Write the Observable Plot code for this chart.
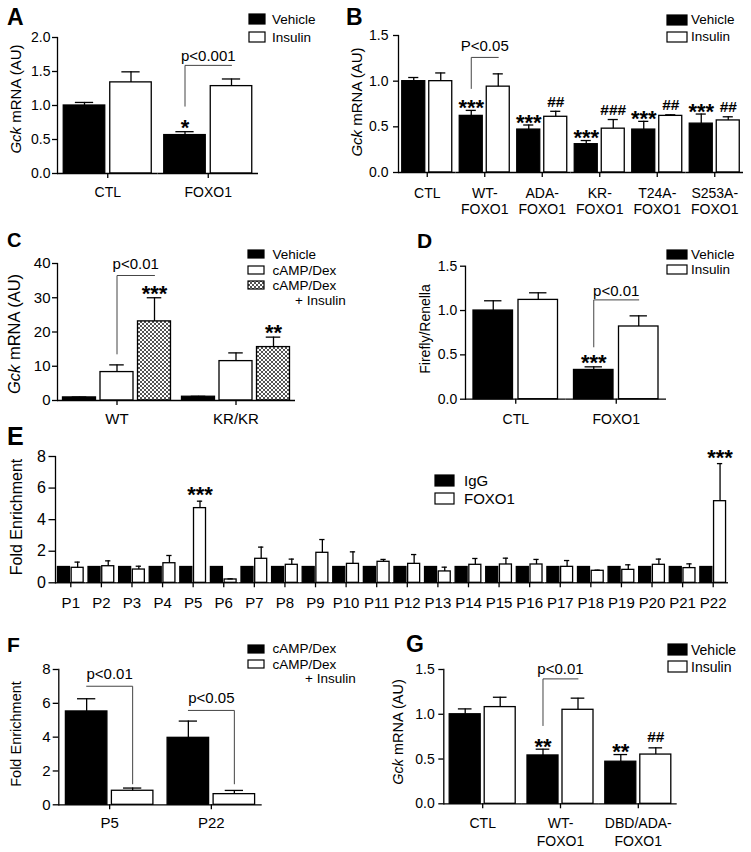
<!DOCTYPE html>
<html><head><meta charset="utf-8">
<script src="https://cdn.jsdelivr.net/npm/d3@7"></script>
<script src="https://cdn.jsdelivr.net/npm/@observablehq/plot@0.6"></script>
<style>
body{margin:0;background:#fff;}
#fig{position:relative;width:751px;height:852px;background:#fff;overflow:hidden}
.panel{position:absolute}
.panel svg{display:block;max-width:none}
#overlay{position:absolute;left:0;top:0;pointer-events:none}
</style></head><body>
<svg width="0" height="0" style="position:absolute"><defs>
<pattern id="checker" patternUnits="userSpaceOnUse" width="4" height="4">
<rect width="4" height="4" fill="#fff"/><rect width="2" height="2" fill="#555"/><rect x="2" y="2" width="2" height="2" fill="#555"/>
</pattern></defs></svg>
<div id="fig"></div>
<script>
const FONT = '"Liberation Sans", Arial, Helvetica, sans-serif';

// ---------- Panel A ----------
const aGroups = ["CTL", "FOXO1"];
const aLabels = ["CTL", "FOXO1"];
const aSeries = ["Vehicle", "Insulin"];
const aVehicle = [1.00, 0.565];
const aVehicleSem = [0.045, 0.05];
const aInsulin = [1.34, 1.285];
const aInsulinSem = [0.155, 0.105];
const aAnnVehicle = ["", "*"];
const aAnnInsulin = ["", ""];
const aTicks = [0, 0.5, 1.0, 1.5, 2.0];
const aBrackets = [{group: "FOXO1", from: "Vehicle", to: "Insulin", bottom: 0.99, top: 1.59, text: "p<0.001", leg: "left"}];

// ---------- Panel B ----------
const bGroups = ["CTL", "WT-FOXO1", "ADA-FOXO1", "KR-FOXO1", "T24A-FOXO1", "S253A-FOXO1"];
const bLabels = ["CTL", "WT-\nFOXO1", "ADA-\nFOXO1", "KR-\nFOXO1", "T24A-\nFOXO1", "S253A-\nFOXO1"];
const bSeries = ["Vehicle", "Insulin"];
const bVehicle = [1.00, 0.62, 0.47, 0.31, 0.47, 0.535];
const bVehicleSem = [0.04, 0.06, 0.05, 0.04, 0.09, 0.105];
const bInsulin = [1.00, 0.94, 0.61, 0.48, 0.62, 0.57];
const bInsulinSem = [0.09, 0.14, 0.06, 0.10, 0.012, 0.04];
const bAnnVehicle = ["", "***", "***", "***", "***", "***"];
const bAnnInsulin = ["", "", "##", "###", "##", "##"];
const bTicks = [0, 0.5, 1.0, 1.5];
const bBrackets = [{group: "WT-FOXO1", from: "Vehicle", to: "Insulin", bottom: 0.92, top: 1.26, text: "P<0.05", leg: "left"}];

// ---------- Panel C ----------
const cGroups = ["WT", "KR/KR"];
const cLabels = ["WT", "KR/KR"];
const cSeries = ["Vehicle", "cAMP/Dex", "cAMP/Dex + Insulin"];
const cVehicle = [0.9, 1.1];
const cVehicleSem = [0.1, 0.12];
const cCamp = [8.3, 11.5];
const cCampSem = [2.1, 2.4];
const cCampIns = [23.1, 15.6];
const cCampInsSem = [6.9, 2.9];
const cAnnCampIns = ["***", "**"];
const cTicks = [0, 10, 20, 30, 40];
const cBrackets = [{group: "WT", from: "cAMP/Dex", to: "cAMP/Dex + Insulin", bottom: 13.6, top: 36.5, text: "p<0.01", leg: "left"}];

// ---------- Panel D ----------
const dGroups = ["CTL", "FOXO1"];
const dLabels = ["CTL", "FOXO1"];
const dSeries = ["Vehicle", "Insulin"];
const dVehicle = [1.00, 0.33];
const dVehicleSem = [0.11, 0.035];
const dInsulin = [1.12, 0.82];
const dInsulinSem = [0.08, 0.12];
const dAnnVehicle = ["", "***"];
const dTicks = [0, 0.5, 1.0, 1.5];
const dBrackets = [{group: "FOXO1", from: "Vehicle", to: "Insulin", bottom: 0.59, top: 1.12, text: "p<0.01", leg: "left"}];

// ---------- Panel E ----------
const eGroups = ["P1","P2","P3","P4","P5","P6","P7","P8","P9","P10","P11","P12","P13","P14","P15","P16","P17","P18","P19","P20","P21","P22"];
const eSeries = ["IgG", "FOXO1"];
const eIgG = [1,1,1,1,1,1,1,1,1,1,1,1,1,1,1,1,1,1,1,1,1,1];
const eFoxo1 = [0.95,1.05,0.84,1.24,4.73,0.21,1.52,1.14,1.90,1.20,1.33,1.20,0.72,1.14,1.16,1.16,1.01,0.76,0.82,1.14,0.93,5.17];
const eFoxo1Sem = [0.36,0.34,0.21,0.49,0.44,0.04,0.74,0.36,0.84,0.76,0.15,0.59,0.27,0.40,0.40,0.32,0.40,0.04,0.32,0.36,0.27,2.38];
const eAnnFoxo1 = ["","","","","***","","","","","","","","","","","","","","","","","***"];
const eTicks = [0, 2, 4, 6, 8];

// ---------- Panel F ----------
const fGroups = ["P5", "P22"];
const fLabels = ["P5", "P22"];
const fSeries = ["cAMP/Dex", "cAMP/Dex + Insulin"];
const fCamp = [5.52, 3.96];
const fCampSem = [0.75, 0.99];
const fCampIns = [0.83, 0.63];
const fCampInsSem = [0.16, 0.22];
const fTicks = [0, 2, 4, 6, 8];
const fBrackets = [
  {group: "P5", from: "cAMP/Dex", to: "cAMP/Dex + Insulin", bottom: 1.24, top: 7.01, text: "p<0.01", leg: "right"},
  {group: "P22", from: "cAMP/Dex", to: "cAMP/Dex + Insulin", bottom: 1.24, top: 5.58, text: "p<0.05", leg: "right"}
];

// ---------- Panel G ----------
const gGroups = ["CTL", "WT-FOXO1", "DBD/ADA-FOXO1"];
const gLabels = ["CTL", "WT-\nFOXO1", "DBD/ADA-\nFOXO1"];
const gSeries = ["Vehicle", "Insulin"];
const gVehicle = [1.00, 0.54, 0.47];
const gVehicleSem = [0.06, 0.07, 0.08];
const gInsulin = [1.08, 1.05, 0.55];
const gInsulinSem = [0.11, 0.13, 0.075];
const gAnnVehicle = ["", "**", "**"];
const gAnnInsulin = ["", "", "##"];
const gTicks = [0, 0.5, 1.0, 1.5];
const gBrackets = [{group: "WT-FOXO1", from: "Vehicle", to: "Insulin", bottom: 0.874, top: 1.395, text: "p<0.01", leg: "left"}];

// ---------- Legends / labels ----------
const legVehIns = ["Vehicle", "Insulin"];
const legC = ["Vehicle", "cAMP/Dex", "cAMP/Dex", "+ Insulin"];
const legE = ["IgG", "FOXO1"];
const legF = ["cAMP/Dex", "cAMP/Dex", "+ Insulin"];

function buildRows(groups, series, means, sems, anns) {
  const out = [];
  series.forEach((s, k) => groups.forEach((g, i) => {
    const sem = sems[k] ? sems[k][i] : 0;
    out.push({group: g, series: s, k, mean: means[k][i], sem, top: means[k][i] + sem,
      ann: anns && anns[k] ? anns[k][i] : ""});
  }));
  return out;
}

function panel(c) {
  const data = buildRows(c.groups, c.series, c.means, c.sems, c.anns);
  const innerW = c.width - c.ml - c.mr;
  const fw = innerW / c.groups.length;
  const step = c.bw + c.gap;
  const pi = c.gap / step;
  const po = (fw / step - c.series.length + pi) / 2;
  const cap = c.bw * 0.28;
  const sw = 1.3;
  const marks = [];
  c.series.forEach((s, k) => {
    const d = data.filter(r => r.series === s);
    marks.push(Plot.barY(d, {fx: "group", x: "series", y: "mean", fill: c.fills[k], stroke: "black", strokeWidth: sw}));
    const e = d.filter(r => r.sem > 0);
    marks.push(Plot.ruleX(e, {fx: "group", x: "series", y1: "mean", y2: "top", stroke: "black", strokeWidth: sw}));
    marks.push(Plot.tickY(e, {fx: "group", x: "series", y: "top", insetLeft: cap, insetRight: cap, stroke: "black", strokeWidth: sw}));
  });
  const stars = data.filter(r => r.ann && r.ann.startsWith("*"));
  const hashes = data.filter(r => r.ann && r.ann.startsWith("#"));
  marks.push(Plot.text(stars, {fx: "group", x: "series", y: "top", text: "ann", lineAnchor: "bottom", dy: c.starDy, fontSize: c.starSize || 22, fontWeight: "bold"}));
  marks.push(Plot.text(hashes, {fx: "group", x: "series", y: "top", text: "ann", lineAnchor: "bottom", dy: c.hashDy, fontSize: 15.5, fontWeight: "bold"}));
  if (c.brackets) {
    const pts = [];
    c.brackets.forEach((b, j) => {
      const seq = b.leg === "left"
        ? [[b.from, b.bottom], [b.from, b.top], [b.to, b.top]]
        : [[b.from, b.top], [b.to, b.top], [b.to, b.bottom]];
      seq.forEach(([s, y]) => pts.push({id: j, group: b.group, series: s, y}));
    });
    marks.push(Plot.line(pts, {fx: "group", x: "series", y: "y", z: "id", stroke: "#444", strokeWidth: 1}));
    marks.push(Plot.text(c.brackets, {fx: "group", x: "from", y: "top", text: "text", dx: step / 2, dy: c.brDy, lineAnchor: "bottom", fontSize: 15}));
  }
  marks.push(Plot.ruleY([0], {stroke: "black", strokeWidth: sw}));
  marks.push(Plot.frame({anchor: "left", facetAnchor: "left", stroke: "black", strokeWidth: sw}));
  marks.push(Plot.axisY({ticks: c.yTicks, tickFormat: c.yFormat, tickSize: c.yTickSize || 5, tickPadding: c.yPad, fontSize: c.yFont, label: null, strokeWidth: sw}));
  marks.push(Plot.axisFx({anchor: "bottom", tickSize: 5, tickPadding: c.xPad, fontSize: c.xFont, lineHeight: c.lh || 1.2, label: null, strokeWidth: sw,
    tickFormat: g => c.labels[c.groups.indexOf(g)]}));
  const plot = Plot.plot({
    width: c.width, height: c.height,
    marginTop: c.mt, marginRight: c.mr, marginBottom: c.mb, marginLeft: c.ml,
    fx: {domain: c.groups, padding: 0, round: false},
    x: {domain: c.series, paddingInner: pi, paddingOuter: po, axis: null, round: false},
    y: {domain: c.yDomain},
    style: {background: "transparent", fontFamily: FONT, fontSize: "14px", color: "black", overflow: "visible"},
    marks
  });
  const div = document.createElement("div");
  div.className = "panel";
  div.style.left = c.left + "px";
  div.style.top = c.top + "px";
  div.style.width = c.width + "px";
  div.appendChild(plot);
  document.getElementById("fig").appendChild(div);
}

const f1 = d3.format(".1f"), f0 = d3.format("d");
const CHK = "url(#checker)";

panel({left: 0, top: 0, width: 375, height: 215, mt: 37, mb: 42, ml: 57, mr: 117,
  groups: aGroups, labels: aLabels, series: aSeries, means: [aVehicle, aInsulin], sems: [aVehicleSem, aInsulinSem],
  anns: [aAnnVehicle, aAnnInsulin], fills: ["black", "white"], bw: 41.5, gap: 5,
  yDomain: [0, 2], yTicks: aTicks, yFormat: f1, yFont: 14, yPad: 2, xFont: 14, xPad: 7,
  starDy: 3, hashDy: -4.5, brackets: aBrackets, brDy: -4});

panel({left: 360, top: 0, width: 391, height: 220, mt: 35, mb: 48, ml: 38, mr: 8,
  groups: bGroups, labels: bLabels, series: bSeries, means: [bVehicle, bInsulin], sems: [bVehicleSem, bInsulinSem],
  anns: [bAnnVehicle, bAnnInsulin], fills: ["black", "white"], bw: 23, gap: 4,
  yDomain: [0, 1.5], yTicks: bTicks, yFormat: f1, yFont: 14, yPad: 5, xFont: 14, xPad: 8, lh: 1.21,
  starDy: 4.5, hashDy: -4.5, brackets: bBrackets, brDy: -6});

panel({left: 0, top: 225, width: 360, height: 205, mt: 38, mb: 30, ml: 57, mr: 65,
  groups: cGroups, labels: cLabels, series: cSeries, means: [cVehicle, cCamp, cCampIns], sems: [cVehicleSem, cCampSem, cCampInsSem],
  anns: [null, null, cAnnCampIns], fills: ["black", "white", CHK], bw: 33, gap: 4.5,
  yDomain: [0, 40], yTicks: cTicks, yFormat: f0, yFont: 15, yPad: 2, xFont: 15, xPad: 6,
  starDy: 3, hashDy: -4.5, brackets: cBrackets, brDy: -6});

panel({left: 400, top: 225, width: 351, height: 205, mt: 40.7, mb: 31.3, ml: 65, mr: 85,
  groups: dGroups, labels: dLabels, series: dSeries, means: [dVehicle, dInsulin], sems: [dVehicleSem, dInsulinSem],
  anns: [dAnnVehicle, null], fills: ["black", "white"], bw: 39.5, gap: 5.5,
  yDomain: [0, 1.5], yTicks: dTicks, yFormat: f1, yFont: 14, yPad: 3.3, xFont: 14, xPad: 8,
  starDy: 3, hashDy: -4.5, brackets: dBrackets, brDy: -4});

panel({left: 0, top: 440, width: 751, height: 175, mt: 16, mb: 32.7, ml: 55, mr: 23,
  groups: eGroups, labels: eGroups, series: eSeries, means: [eIgG, eFoxo1], sems: [null, eFoxo1Sem],
  anns: [null, eAnnFoxo1], fills: ["black", "white"], bw: 12, gap: 1.7,
  yDomain: [0, 8], yTicks: eTicks, yFormat: f0, yFont: 16, yPad: 3, yTickSize: 6.5, xFont: 15, xPad: 7,
  starDy: 1, hashDy: -4.5});

panel({left: 0, top: 640, width: 360, height: 200, mt: 29, mb: 35.7, ml: 58.3, mr: 98.3,
  groups: fGroups, labels: fLabels, series: fSeries, means: [fCamp, fCampIns], sems: [fCampSem, fCampInsSem],
  anns: null, fills: ["black", "white"], bw: 41.5, gap: 4.5,
  yDomain: [0, 8], yTicks: fTicks, yFormat: f0, yFont: 15, yPad: 2.7, yTickSize: 5.6, xFont: 15, xPad: 5,
  starDy: 3, hashDy: -4.5, brackets: fBrackets, brDy: -7.5});

panel({left: 400, top: 640, width: 351, height: 212, mt: 29, mb: 48.7, ml: 43.3, mr: 74.3,
  groups: gGroups, labels: gLabels, series: gSeries, means: [gVehicle, gInsulin], sems: [gVehicleSem, gInsulinSem],
  anns: [gAnnVehicle, gAnnInsulin], fills: ["black", "white"], bw: 31, gap: 4,
  yDomain: [0, 1.5], yTicks: gTicks, yFormat: f1, yFont: 14, yPad: 4, xFont: 14, xPad: 6.8, lh: 1.286,
  starDy: 4.5, hashDy: -5.5, brackets: gBrackets, brDy: -5});

// ---------- Overlay: panel letters, axis titles, legends ----------
const ov = d3.select("#fig").append("svg").attr("id", "overlay")
  .attr("width", 751).attr("height", 852).style("font-family", FONT);

function letter(t, x, y, size) {
  ov.append("text").attr("x", x).attr("y", y).attr("font-size", size).attr("font-weight", "bold").text(t);
}
function ylabel(parts, bx, cy, size) {
  const t = ov.append("text").attr("transform", `translate(${bx},${cy}) rotate(-90)`)
    .attr("text-anchor", "middle").attr("font-size", size);
  parts.forEach(([s, it]) => t.append("tspan").attr("font-style", it ? "italic" : null).text(s));
}
function legend(labels, fills, o) {
  labels.forEach((lab, i) => {
    const f = fills[i];
    if (f) ov.append("rect").attr("x", o.x).attr("y", o.ys[i]).attr("width", o.w).attr("height", o.h)
      .attr("fill", f).attr("stroke", "black").attr("stroke-width", 1.2);
    ov.append("text").attr("x", o.tx[i] !== undefined ? o.tx[i] : o.tx0).attr("y", o.bl[i])
      .attr("font-size", o.size).text(lab);
  });
}

letter("A", 7, 25, 23);
letter("B", 346, 25, 23);
letter("C", 7, 247, 20);
letter("D", 417, 248, 21);
letter("E", 7, 445, 25);
letter("F", 7, 652, 21);
letter("G", 406, 652, 23);

const gck = [["Gck", true], [" mRNA (AU)", false]];
ylabel(gck, 21, 99, 15);
ylabel(gck, 362, 102, 15);
ylabel(gck, 20, 334, 16.5);
ylabel([["Firefly/Renella", false]], 430, 329, 14);
ylabel([["Fold Enrichment", false]], 22, 517, 16);
ylabel([["Fold Enrichment", false]], 21, 734, 14.5);
ylabel(gck, 403, 732, 14.5);

legend(legVehIns, ["black", "white"], {x: 249, w: 16, h: 10, ys: [14, 32], tx0: 272, tx: [], bl: [24, 41.5], size: 13.5});
legend(legVehIns, ["black", "white"], {x: 667, w: 20, h: 10, ys: [15, 32], tx0: 691, tx: [], bl: [24, 41], size: 13.5});
legend(legC, ["black", "white", CHK, null], {x: 248, w: 16, h: 8, ys: [250, 266, 281], tx0: 272.5, tx: [, , , 295], bl: [259, 274.5, 290, 304.5], size: 13.5});
legend(legVehIns, ["black", "white"], {x: 667, w: 20, h: 9, ys: [250, 265], tx0: 691, tx: [], bl: [259, 274], size: 13.5});
legend(legE, ["black", "white"], {x: 435, w: 19, h: 11, ys: [475, 493], tx0: 464, tx: [], bl: [486, 503.5], size: 15});
legend(legF, ["black", "white", null], {x: 248, w: 16, h: 8, ys: [645, 660], tx0: 272.5, tx: [, , 305], bl: [653, 669, 683], size: 13.5});
legend(legVehIns, ["black", "white"], {x: 668, w: 19, h: 11, ys: [644, 661], tx0: 691, tx: [], bl: [655, 672], size: 14});
</script>
</body></html>
